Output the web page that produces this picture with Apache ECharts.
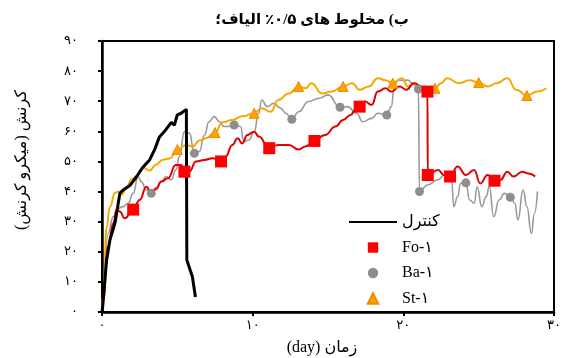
<!DOCTYPE html>
<html>
<head>
<meta charset="utf-8">
<script src="https://cdn.jsdelivr.net/npm/echarts@6/dist/echarts.min.js"></script>
<style>html,body{margin:0;padding:0;background:#fff;}#c{width:564px;height:358px;}</style>
</head>
<body>
<div id="c" dir="rtl"></div>
<script>
// ---- data (day, micro-strain) ----
var seriesNames = ['کنترل', 'Fo-۱', 'Ba-۱', 'St-۱'];
var xTickLabels = ['۰', '۱۰', '۲۰', '۳۰'];
var yTickLabels = ['۰', '۱۰', '۲۰', '۳۰', '۴۰', '۵۰', '۶۰', '۷۰', '۸۰', '۹۰'];

var controlData = [[0,0],[0.05,2],[0.3,17],[0.53,24],[0.86,29.5],[1.19,39.5],[1.4,40.5],[1.85,42],[2.3,45],[2.7,48],[3.16,50.5],[3.5,54],[3.8,58],[4.15,60],[4.6,63],[4.8,62],[5.0,65.5],[5.25,66],[5.6,67.3],[5.63,17.3],[6.0,11.7],[6.2,5]];

var foData = [[0,1],[0.07,4],[0.4,21.7],[0.75,29.5],[0.97,34],[1.2,33.3],[1.5,31.1],[2.07,34],[2.5,37.2],[2.95,41.6],[3.27,39.4],[3.6,41.1],[3.93,43.3],[4.37,44.4],[4.9,48.8],[5.25,48.8],[5.47,46.6],[5.8,46.6],[6.24,50],[6.8,50.5],[7.34,51.1],[7.9,50],[8.2,51.6],[8.65,55.5],[9.0,57.7],[9.3,56],[9.65,58.8],[10.1,59.9],[10.4,58.3],[11.1,54.4],[11.7,55.5],[12.4,55.5],[13.05,54],[13.5,55],[14.1,56.8],[14.8,58.8],[15.5,61.6],[16.0,63.8],[16.5,65.4],[16.8,67.1],[17.1,68.2],[17.45,69.9],[17.9,68.8],[18.3,73.2],[18.8,74.3],[19.2,73.2],[19.75,74.9],[20.2,73.8],[20.7,76],[21.2,74.9],[21.6,73.2],[21.62,45.5],[22.3,47.2],[22.7,45.5],[23.1,45],[23.6,48.3],[24.15,45.5],[24.7,47.2],[25.1,42.7],[25.6,45.5],[26.05,43.6],[26.45,43.9],[26.9,46.6],[27.3,45],[27.9,46.6],[28.3,46],[28.75,45]];
var foMarks = [[2.07,34],[5.47,46.6],[7.9,50],[11.1,54.4],[14.1,56.8],[17.1,68.2],[21.6,73.2],[21.62,45.5],[23.1,45],[26.05,43.6]];

var baData = [[0,1],[0.07,3],[0.4,26],[0.75,31.7],[1.07,34.4],[1.4,35],[1.73,36.1],[2.07,39.4],[2.4,45],[2.6,43.3],[2.95,40.5],[3.27,39.4],[3.6,40.5],[3.93,43.3],[4.26,45],[4.6,43.9],[4.9,47.2],[5.14,51.6],[5.47,59.9],[5.8,59.4],[6.13,52.7],[6.46,53.3],[6.8,58.8],[7.1,63.2],[7.45,64.9],[7.8,63.2],[8.1,61.6],[8.4,61.6],[8.77,62.1],[9.2,61.6],[9.4,56.6],[9.75,57.1],[10.1,59.9],[10.4,66],[10.6,70.4],[10.97,68.2],[11.4,69.3],[11.85,67.7],[12.2,66],[12.6,64],[13.05,66.5],[13.7,69.9],[14.4,71],[15.0,72.1],[15.8,68],[16.3,68.2],[16.9,66],[17.3,63.2],[17.9,64.3],[18.3,66],[18.9,65.4],[19.2,68.2],[19.4,74.9],[19.6,76.9],[20.3,77],[20.6,76],[21.0,74],[21.07,40],[21.6,42.2],[22.3,43.9],[22.7,45.5],[23.2,43.9],[23.35,35],[23.6,38.3],[23.8,42.7],[24.15,42.9],[24.4,37.2],[24.7,36.1],[24.9,41.6],[25.2,35],[25.5,38.3],[25.7,41.6],[26.0,31.7],[26.35,37.2],[26.7,39.4],[27.1,38.1],[27.4,36.1],[27.6,30.6],[27.95,40.5],[28.2,35],[28.5,26.1],[28.7,32.8],[28.9,40]];
var baMarks = [[3.27,39.4],[6.13,52.7],[8.77,62.1],[12.6,64],[15.8,68],[18.9,65.4],[21.0,74],[21.07,40],[24.15,42.9],[27.1,38.1]];

var stData = [[0,2],[0.1,6],[0.3,28],[0.53,35],[0.86,39.5],[1.07,40],[1.3,39],[1.6,41],[1.96,44],[2.3,45],[2.7,48],[3.16,47],[3.6,49],[4.0,50.5],[4.5,51],[5.0,54],[5.6,55.5],[6.0,55],[6.5,57],[6.9,57.7],[7.5,59.6],[8.0,63],[8.65,63.8],[9.3,65],[10.1,66],[10.6,67.7],[11.2,66.5],[11.7,70.4],[12.4,72.6],[13.05,74.9],[13.5,74.3],[13.9,76],[14.6,72.6],[15.25,73.2],[16.0,74.9],[16.6,76],[17.1,73.8],[17.7,74.9],[18.3,77.6],[18.8,77],[19.3,76],[19.9,77.6],[20.3,74.9],[20.7,76],[21.4,74.3],[22.1,74.3],[22.5,76],[22.9,77.6],[23.7,76],[24.4,77],[25.0,76.2],[25.6,74.9],[26.2,76],[26.9,77.6],[27.5,73.8],[28.2,71.9],[28.9,73.2],[29.5,74.3]];
var stMarks = [[5.0,54],[7.5,59.6],[10.1,66],[13.05,74.9],[16.0,74.9],[19.3,76],[22.1,74.3],[25.0,76.2],[28.2,71.9]];

var titleText = 'ب) مخلوط های ۰/۵٪ الیاف؛';
var xName = 'زمان (day)';
var yName = 'کرنش (میکرو کرنش)';

// ---- chart ----
var FONT = "'Liberation Serif','DejaVu Serif','DejaVu Sans',serif";
var chart = echarts.init(document.getElementById('c'), null, {renderer: 'canvas'});
chart.setOption({
  animation: false,
  backgroundColor: '#fff',
  grid: {left: 102, right: 7, top: 41, bottom: 46, show: true, borderColor: '#000', borderWidth: 2, backgroundColor: 'transparent'},
  xAxis: {
    type: 'value', min: 0, max: 30, interval: 10,
    axisLine: {show: true, lineStyle: {color: '#000', width: 2.5}},
    axisTick: {show: true, length: 4, lineStyle: {color: '#000', width: 2}},
    axisLabel: {margin: 7, color: '#000', fontSize: 13, fontFamily: FONT,
      formatter: function (v) { return xTickLabels[Math.round(v / 10)]; }},
    splitLine: {show: false}
  },
  yAxis: {
    type: 'value', min: 0, max: 90, interval: 10,
    axisLine: {show: true, lineStyle: {color: '#000', width: 2.5}},
    axisTick: {show: true, length: 4, lineStyle: {color: '#000', width: 2}},
    axisLabel: {margin: 24, color: '#000', fontSize: 13, fontFamily: FONT,
      formatter: function (v) { return yTickLabels[Math.round(v / 10)]; }},
    splitLine: {show: false}
  },
  legend: {
    orient: 'vertical', left: 343, top: 209, itemWidth: 48, itemHeight: 13, itemGap: 9.5,
    textStyle: {fontFamily: FONT, fontSize: 16, lineHeight: 16, color: '#000'},
    data: [
      {name: seriesNames[0], itemStyle: {opacity: 0}},
      {name: seriesNames[1], lineStyle: {opacity: 0}},
      {name: seriesNames[2], lineStyle: {opacity: 0}},
      {name: seriesNames[3], lineStyle: {opacity: 0}}
    ]
  },
  graphic: [
    {type: 'text', x: 312, y: 20, style: {text: titleText, font: 'bold 15px ' + FONT, fill: '#000', align: 'center', verticalAlign: 'middle', textAlign: 'center', textVerticalAlign: 'middle'}},
    {type: 'text', x: 322, y: 348, style: {text: xName, font: '16px ' + FONT, fill: '#000', align: 'center', verticalAlign: 'middle', textAlign: 'center', textVerticalAlign: 'middle'}},
    {type: 'text', x: 22, y: 160, rotation: Math.PI / 2, style: {text: yName, font: '16px ' + FONT, fill: '#000', align: 'center', verticalAlign: 'middle', textAlign: 'center', textVerticalAlign: 'middle'}}
  ],
  series: [
    {name: seriesNames[2], type: 'line', data: baData, showSymbol: false, symbol: 'circle', smooth: 0.5, smoothMonotone: 'x',
      lineStyle: {color: '#9a9a9a', width: 1.6}, itemStyle: {color: '#8e8e8e'}, z: 2},
    {name: seriesNames[3], type: 'line', data: stData, showSymbol: false, symbol: 'triangle', smooth: 0.5, smoothMonotone: 'x',
      lineStyle: {color: '#f5a800', width: 2}, itemStyle: {color: '#ffa200', borderColor: '#f08a00', borderWidth: 1}, z: 3},
    {name: seriesNames[1], type: 'line', data: foData, showSymbol: false, symbol: 'rect', smooth: 0.5, smoothMonotone: 'x',
      lineStyle: {color: '#e00000', width: 2}, itemStyle: {color: '#ff0000'}, z: 4},
    {name: seriesNames[0], type: 'line', data: controlData, showSymbol: false, symbol: 'none',
      lineStyle: {color: '#000', width: 3}, itemStyle: {color: '#000'}, z: 5},
    {name: 'Ba-mark', type: 'scatter', data: baMarks, symbol: 'circle', symbolSize: 9, itemStyle: {color: '#8e8e8e', opacity: 1}, z: 6},
    {name: 'St-mark', type: 'scatter', data: stMarks, symbol: 'triangle', symbolSize: 10, itemStyle: {color: '#ffa200', borderColor: '#f08a00', borderWidth: 1, opacity: 1}, z: 6},
    {name: 'Fo-mark', type: 'scatter', data: foMarks, symbol: 'rect', symbolSize: 12, itemStyle: {color: '#ff0000', opacity: 1}, z: 7}
  ]
});
</script>
</body>
</html>
